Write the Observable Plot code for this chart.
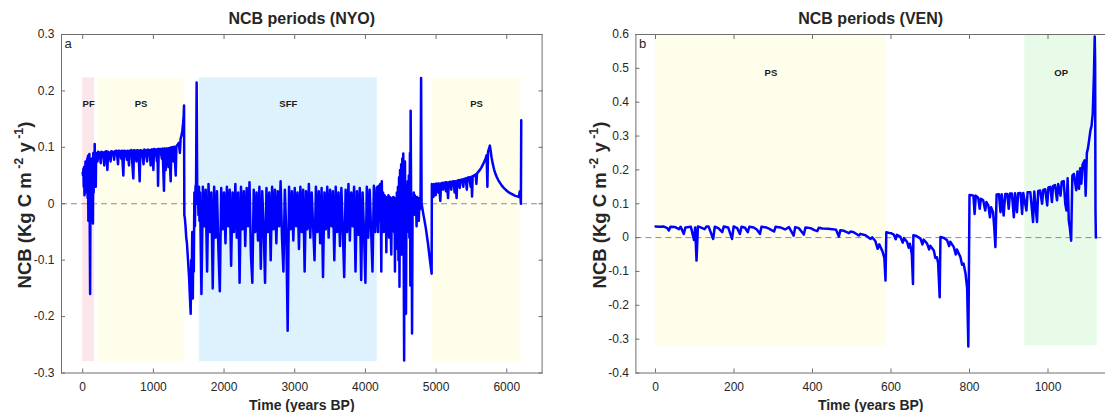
<!DOCTYPE html>
<html><head><meta charset="utf-8">
<script src="https://cdn.jsdelivr.net/npm/d3@7"></script>
<script src="https://cdn.jsdelivr.net/npm/@observablehq/plot@0.6"></script>
<style>
html,body{margin:0;padding:0;background:#fff;overflow:hidden;width:1105px;height:412px}
#wrap{position:relative;width:1105px;height:412px;overflow:hidden}
#wrap svg{position:absolute;top:0}
</style></head><body><div id="wrap"></div>
<script>
// ---------------- DATA: NYO (left panel) ----------------
const nyoPF = [[0,0.055],[5,0.05],[10,0.062],[15,0.03],[20,0.065],[25,0.015],[30,0.06],[35,0.055],[40,0.075],[45,0.02],[50,0.07],[55,0.06],[60,0.045],[65,0.08],[70,0.01],[75,0.085],[80,-0.03],[85,0.07],[90,0.04],[95,0.088],[100,-0.05],[105,-0.16],[110,0.02],[115,0.075],[120,0.06],[125,-0.03],[130,0.08],[135,0.04],[140,0.03],[145,-0.035],[150,0.09],[155,0.02],[160,0.08],[165,0.05],[170,0.106],[175,0.06],[180,0.09],[185,0.03],[190,0.085],[195,0.075]];
const nyoPS1 = [[200,0.09],[210,0.075],[220,0.092],[240,0.09],[255,0.072],[265,0.092],[290,0.091],[305,0.068],[315,0.092],[335,0.093],[349,0.06],[360,0.092],[380,0.09],[395,0.075],[405,0.093],[430,0.092],[445,0.078],[455,0.093],[480,0.094],[500,0.07],[510,0.094],[530,0.093],[545,0.08],[555,0.094],[575,0.05],[585,0.094],[610,0.093],[625,0.078],[635,0.094],[655,0.068],[665,0.094],[690,0.095],[716,0.045],[726,0.095],[745,0.094],[760,0.075],[770,0.095],[790,0.094],[806,0.04],[816,0.095],[840,0.094],[861,0.07],[871,0.096],[890,0.095],[911,0.075],[921,0.096],[945,0.095],[962,0.068],[972,0.096],[990,0.096],[1000,0.06],[1010,0.097],[1035,0.096],[1050,0.075],[1058,0.097],[1066,0.032],[1076,0.097],[1100,0.097],[1120,0.08],[1130,0.098],[1150,0.023],[1160,0.098],[1175,0.06],[1185,0.098],[1200,0.098],[1214,0.065],[1224,0.099],[1245,0.04],[1255,0.1],[1270,0.1],[1285,0.075],[1295,0.101],[1316,0.05],[1326,0.102],[1345,0.105],[1360,0.108],[1375,0.09],[1385,0.115],[1400,0.122],[1410,0.13],[1420,0.142],[1428,0.155],[1434,0.174]];
const nyoShift = [[1436,0.06],[1438,-0.02],[1445,-0.025],[1455,-0.04],[1465,-0.06],[1475,-0.07],[1485,-0.09],[1495,-0.11],[1505,-0.13],[1515,-0.16],[1528,-0.195],[1535,-0.1],[1542,-0.14],[1550,-0.05],[1558,-0.168],[1565,-0.06],[1572,-0.12],[1580,0.02],[1588,-0.04],[1596,0.03],[1604,0.035],[1612,0.215],[1618,0.08],[1622,0.0],[1630,0.025],[1638,-0.02],[1645,0.03],[1652,-0.03]];
const nyoSFFStart = 1660, nyoSFFStep = 20;
const nyoSFFValues = [0.02,-0.16,0.03,-0.04,0.025,-0.12,0.035,-0.05,0.02,-0.15,0.03,-0.06,0.022,-0.08,-0.155,0.028,-0.045,0.02,-0.07,0.03,-0.04,0.025,-0.11,0.02,-0.05,0.035,-0.06,0.02,-0.14,0.03,-0.045,0.022,-0.075,0.028,-0.04,0.038,-0.09,-0.14,0.025,-0.05,0.02,-0.065,0.03,-0.115,0.022,-0.04,-0.14,0.028,-0.05,0.02,-0.1,0.03,-0.045,0.025,-0.07,0.022,-0.04,0.04,-0.06,-0.12,0.025,-0.05,-0.225,0.03,-0.045,0.022,-0.065,0.028,-0.04,0.02,-0.08,0.03,-0.05,0.025,-0.12,0.022,-0.045,0.035,-0.06,0.02,-0.04,-0.1,0.03,-0.05,0.022,-0.07,0.028,-0.13,0.02,-0.045,0.03,-0.06,0.025,-0.04,0.022,-0.1,0.03,-0.05,0.02,-0.075,0.028,-0.045,-0.13,0.025,-0.05,0.035,-0.065,0.02,-0.04,0.03,-0.12,0.022,-0.055,0.028,-0.135,0.02,-0.05,-0.14,0.03,-0.06,0.025,-0.045,-0.12,0.032,-0.05,0.028];
const nyoPost = [[4170,0.03],[4180,-0.05],[4190,0.032],[4200,-0.03],[4210,0.035],[4220,-0.04],[4225,-0.12],[4232,0.04],[4240,-0.03],[4250,0.02],[4260,-0.05],[4270,0.015],[4280,-0.04],[4290,0.012],[4296,-0.086],[4305,0.01],[4315,-0.04],[4325,0.015],[4335,-0.06],[4345,0.012],[4355,-0.035],[4366,-0.09],[4375,0.01],[4385,-0.04],[4395,0.012],[4405,-0.05],[4412,0.01],[4418,-0.12],[4426,0.005],[4435,-0.05],[4445,0.02],[4452,-0.08],[4460,0.03],[4468,-0.1],[4476,0.047],[4482,-0.147],[4490,0.06],[4498,-0.06],[4506,0.07],[4514,-0.09],[4522,0.08],[4530,-0.04],[4536,0.089],[4542,-0.1],[4548,-0.278],[4554,0.06],[4560,0.075],[4566,-0.08],[4574,-0.195],[4582,0.03],[4590,-0.05],[4598,0.04],[4606,-0.03],[4614,0.05],[4622,-0.06],[4630,0.09],[4636,-0.145],[4640,0.165],[4648,-0.02],[4656,-0.1],[4660,-0.23],[4668,0.01],[4676,-0.02],[4684,0.02],[4692,-0.015],[4700,0.015],[4708,-0.02],[4716,0.01],[4724,-0.04],[4732,0.012],[4740,-0.015],[4748,0.008],[4756,-0.03],[4764,0.01],[4772,-0.01],[4780,0.005],[4788,0.223],[4795,0.0],[4819,-0.018],[4852,-0.041],[4885,-0.07],[4913,-0.1],[4937,-0.124]];
const nyoPS2 = [[4940,0.035],[4955,0.033],[4962,0.012],[4970,0.035],[4985,0.034],[4995,0.015],[5005,0.036],[5020,0.035],[5030,0.02],[5040,0.036],[5060,0.005],[5070,0.036],[5090,0.037],[5100,0.025],[5110,0.037],[5130,0.038],[5140,0.022],[5150,0.038],[5170,0.01],[5180,0.038],[5200,0.039],[5215,0.025],[5225,0.039],[5250,0.04],[5262,0.02],[5272,0.04],[5290,0.01],[5300,0.041],[5320,0.042],[5335,0.028],[5345,0.042],[5370,0.043],[5385,0.03],[5395,0.044],[5420,0.045],[5435,0.025],[5445,0.046],[5470,0.047],[5490,0.03],[5500,0.048],[5509,0.013],[5518,0.049],[5540,0.05],[5560,0.052],[5570,0.035],[5580,0.054],[5600,0.057],[5620,0.06],[5640,0.064],[5660,0.069],[5680,0.074],[5700,0.08],[5715,0.086],[5726,0.03],[5735,0.092],[5750,0.098],[5761,0.103],[5772,0.094],[5785,0.082],[5800,0.072],[5820,0.061],[5840,0.053],[5860,0.047],[5880,0.042],[5900,0.038],[5925,0.033],[5950,0.029],[5975,0.026],[6000,0.023],[6030,0.02],[6060,0.018],[6090,0.016],[6120,0.014],[6150,0.013],[6170,0.012],[6185,0.022],[6195,0.012],[6200,0.0],[6205,0.148]];

const nyoPeriodNames = ["PF","PS","SFF","PS"];
const nyoPeriodStart = [0, 212, 1650, 4946];
const nyoPeriodEnd = [167, 1440, 4167, 6200];
const nyoPeriodColors = ["#fde6ea","#fffeeb","#ddf2fc","#fffeeb"];
const nyoBoxBottom = -0.28, nyoBoxTop = 0.223, nyoLabelValue = 0.177;
const nyoXTicks = [0,1000,2000,3000,4000,5000,6000];
const nyoYTicks = [-0.3,-0.2,-0.1,0,0.1,0.2,0.3];
const nyoYTickLabels = ["-0.3","-0.2","-0.1","0","0.1","0.2","0.3"];

// ---------------- DATA: VEN (right panel) ----------------
const venPS = [[0,0.033],[10,0.032],[20,0.033],[30,0.028],[34,0.021],[38,0.032],[50,0.031],[60,0.025],[64,0.032],[72,0.011],[76,0.03],[90,0.032],[98,-0.007],[101,0.03],[104.5,-0.068],[108,0.033],[115,0.03],[125,0.025],[130,0.033],[135,0.033],[147,-0.004],[151,0.032],[160,0.028],[170,0.016],[174,0.033],[185,0.03],[195,-0.004],[199,0.033],[208,0.028],[215,0.011],[219,0.032],[228,0.029],[235,0.016],[239,0.032],[250,0.03],[258,0.024],[266,0.011],[270,0.032],[282,0.03],[290,0.026],[302,0.018],[306,0.032],[318,0.03],[330,0.024],[340,0.031],[352,0.006],[356,0.031],[365,0.028],[378,0.009],[382,0.03],[395,0.028],[405,0.022],[412,0.019],[416,0.029],[425,0.027],[440,0.026],[450,0.025],[460,0.023],[467,0.003],[471,0.022],[480,0.02],[493,0.013],[497,0.018],[505,0.016],[518,0.006],[522,0.011],[535,0.007],[548,-0.004],[552,0.001],[560,-0.01],[566,-0.033],[570,-0.02],[578,-0.04],[583,-0.06],[586,-0.127]];
const venCycles = [[588,0.016],[595,0.014],[600,0.013],[607,0.009],[612,-0.005],[615,0.008],[624,0.002],[630,-0.015],[633,-0.001],[641,-0.013],[645,-0.03],[648,-0.018],[650,-0.028],[653,-0.05],[656,-0.137],[657,0.007],[665,0.005],[675,-0.003],[680,-0.02],[683,-0.006],[692,-0.018],[697,-0.035],[700,-0.024],[709,-0.038],[713,-0.06],[717,-0.058],[720,-0.075],[724,-0.176],[726,0.002],[735,-0.001],[743,-0.008],[748,-0.025],[751,-0.012],[760,-0.028],[765,-0.05],[768,-0.035],[777,-0.058],[781,-0.08],[785,-0.077],[790,-0.107],[794,-0.15],[797,-0.322]];
const venRise = [[800,0.126],[806,0.125],[810,0.124],[813,0.07],[816,0.124],[822,0.118],[826,0.085],[829,0.115],[835,0.11],[840,0.08],[843,0.105],[848,0.095],[852,0.06],[855,0.09],[860,0.075],[863,0.03],[866,-0.028],[869,0.127],[875,0.128],[879,0.075],[882,0.128],[887,0.065],[891,0.129],[896,0.129],[900,0.085],[903,0.13],[908,0.13],[913,0.06],[916,0.131],[921,0.075],[924,0.131],[930,0.132],[934,0.07],[937,0.132],[945,0.08],[948,0.134],[955,0.134],[962,0.046],[965,0.136],[972,0.046],[975,0.138],[980,0.139],[985,0.1],[988,0.141],[993,0.143],[998,0.095],[1001,0.148],[1006,0.15],[1010,0.105],[1013,0.153],[1018,0.155],[1023,0.11],[1026,0.158],[1032,0.124],[1035,0.165],[1040,0.167],[1044,0.1],[1047,0.08],[1050,0.175],[1053,0.05],[1056,0.026],[1059,-0.009],[1062,0.183],[1066,0.188],[1072,0.14],[1075,0.195],[1079,0.144],[1082,0.205],[1085,0.159],[1088,0.215],[1093,0.228],[1096,0.124],[1099,0.25],[1102,0.265],[1105,0.29],[1108,0.316],[1111,0.33],[1114,0.366],[1117,0.48],[1119,0.594],[1120,0.52],[1121,0.08],[1122,0.0]];

const venPeriodNames = ["PS","OP"];
const venPeriodStart = [0, 941];
const venPeriodEnd = [588, 1126];
const venPeriodColors = ["#fffeeb","#e8fbe9"];
const venBoxBottom = -0.32, venBoxTop = 0.6, venLabelValue = 0.485;
const venXTicks = [0,200,400,600,800,1000];
const venYTicks = [-0.4,-0.3,-0.2,-0.1,0,0.1,0.2,0.3,0.4,0.5,0.6];
const venYTickLabels = ["-0.4","-0.3","-0.2","-0.1","0","0.1","0.2","0.3","0.4","0.5","0.6"];

const titles = ["NCB periods (NYO)", "NCB periods (VEN)"];
const panelLetters = ["a", "b"];
const xLabel = "Time (years BP)";

// ---------------- BUILD ----------------
const toRows = pairs => pairs.map(([t, v]) => ({t, v}));
const nyo = [
  ...toRows(nyoPF), ...toRows(nyoPS1), ...toRows(nyoShift),
  ...nyoSFFValues.map((v, i) => ({t: nyoSFFStart + i * nyoSFFStep, v})),
  ...toRows(nyoPost), ...toRows(nyoPS2)
];
const ven = [...toRows(venPS), ...toRows(venCycles), ...toRows(venRise)];
const boxes = (names, s, e, c, b, top) => names.map((name, i) => ({name, start: s[i], end: e[i], color: c[i], y1: b, y2: top}));
const nyoBoxes = boxes(nyoPeriodNames, nyoPeriodStart, nyoPeriodEnd, nyoPeriodColors, nyoBoxBottom, nyoBoxTop);
const venBoxes = boxes(venPeriodNames, venPeriodStart, venPeriodEnd, venPeriodColors, venBoxBottom, venBoxTop);

const FONT = "'Liberation Sans', Arial, Helvetica, sans-serif";
const INK = "#262626";
const FRAME = "#6e6e6e";

function panel({data, bx, labelValue, xDomain, yDomain, xTicks, yTicks, yTickLabels, title, letter, width, marginLeft, marginRight, openRight}) {
  const fmtY = d => yTickLabels[yTicks.findIndex(t => Math.abs(t - d) < 1e-9)];
  const frameMarks = openRight
    ? [Plot.ruleY(yDomain, {stroke: FRAME, strokeWidth: 1}), Plot.ruleX([xDomain[0]], {stroke: FRAME, strokeWidth: 1})]
    : [Plot.frame({stroke: FRAME, strokeWidth: 1}),
       Plot.axisY({ticks: yTicks, anchor: "right", tickSize: -4, tickFormat: () => "", label: null, stroke: FRAME})];
  return Plot.plot({
    width, height: 412,
    marginLeft, marginRight, marginTop: 34, marginBottom: 39.5,
    x: {domain: xDomain, label: null},
    y: {domain: yDomain, label: null},
    style: {fontFamily: FONT, color: INK, background: "transparent", overflow: "visible"},
    marks: [
      Plot.rect(bx, {x1: "start", x2: "end", y1: "y1", y2: "y2", fill: "color"}),
      Plot.ruleY([0], {stroke: "#8c8c8c", strokeWidth: 1, strokeDasharray: "6,4"}),
      Plot.line(data, {x: "t", y: "v", stroke: "#0000ff", strokeWidth: 2.5}),
      Plot.text(bx, {x: d => (d.start + d.end) / 2, y: () => labelValue, text: "name", fontWeight: "bold", fontSize: 9.5, fill: "#1a1a1a"}),
      ...frameMarks,
      Plot.axisX({ticks: xTicks, anchor: "bottom", tickSize: 0, tickPadding: 9, fontSize: 12, tickFormat: d => String(d), label: null}),
      Plot.axisX({ticks: xTicks, anchor: "bottom", tickSize: -4, tickFormat: () => "", label: null, stroke: FRAME}),
      Plot.axisX({ticks: xTicks, anchor: "top", tickSize: -4, tickFormat: () => "", label: null, stroke: FRAME}),
      Plot.axisY({ticks: yTicks, anchor: "left", tickSize: 0, tickPadding: 7, fontSize: 12, tickFormat: fmtY, label: null}),
      Plot.axisY({ticks: yTicks, anchor: "left", tickSize: -4, tickFormat: () => "", label: null, stroke: FRAME}),
      Plot.text([title], {frameAnchor: "top", dy: -11, lineAnchor: "bottom", fontSize: 16, fontWeight: "bold"}),
      Plot.text([xLabel], {frameAnchor: "bottom", dy: 27, lineAnchor: "top", fontSize: 14, fontWeight: "bold"}),
      Plot.text([letter], {frameAnchor: "top-left", dx: 3, dy: 4, lineAnchor: "top", textAnchor: "start", fontSize: 13})
    ]
  });
}

function addYLabel(svg, x, y) {
  const t = d3.select(svg).append("text")
    .attr("transform", `translate(${x},${y}) rotate(-90)`)
    .attr("text-anchor", "middle")
    .attr("font-family", FONT).attr("font-weight", "bold").attr("font-size", 18.5).attr("fill", INK);
  t.append("tspan").text("NCB (Kg C m");
  t.append("tspan").attr("dy", -8).attr("font-size", 12.5).text(" -2");
  t.append("tspan").attr("dy", 8).text(" y");
  t.append("tspan").attr("dy", -8).attr("font-size", 12.5).text(" -1");
  t.append("tspan").attr("dy", 8).text(")");
}

const wrap = document.getElementById("wrap");
const left = panel({data: nyo, bx: nyoBoxes, labelValue: nyoLabelValue, xDomain: [-300, 6500], yDomain: [-0.3, 0.3],
  xTicks: nyoXTicks, yTicks: nyoYTicks, yTickLabels: nyoYTickLabels, title: titles[0], letter: panelLetters[0],
  width: 560, marginLeft: 61, marginRight: 18.4, openRight: false});
left.style.left = "0px";
wrap.appendChild(left);
addYLabel(left, 31, 205);

// right panel: its frame runs past the picture's right edge, as in the reference
const right = panel({data: ven, bx: venBoxes, labelValue: venLabelValue, xDomain: [-50, 1146.5], yDomain: [-0.4, 0.6],
  xTicks: venXTicks, yTicks: venYTicks, yTickLabels: venYTickLabels, title: titles[1], letter: panelLetters[1],
  width: 545, marginLeft: 75.4, marginRight: 0, openRight: true});
right.style.left = "560px";
wrap.appendChild(right);
addYLabel(right, 46, 205);
</script></body></html>
